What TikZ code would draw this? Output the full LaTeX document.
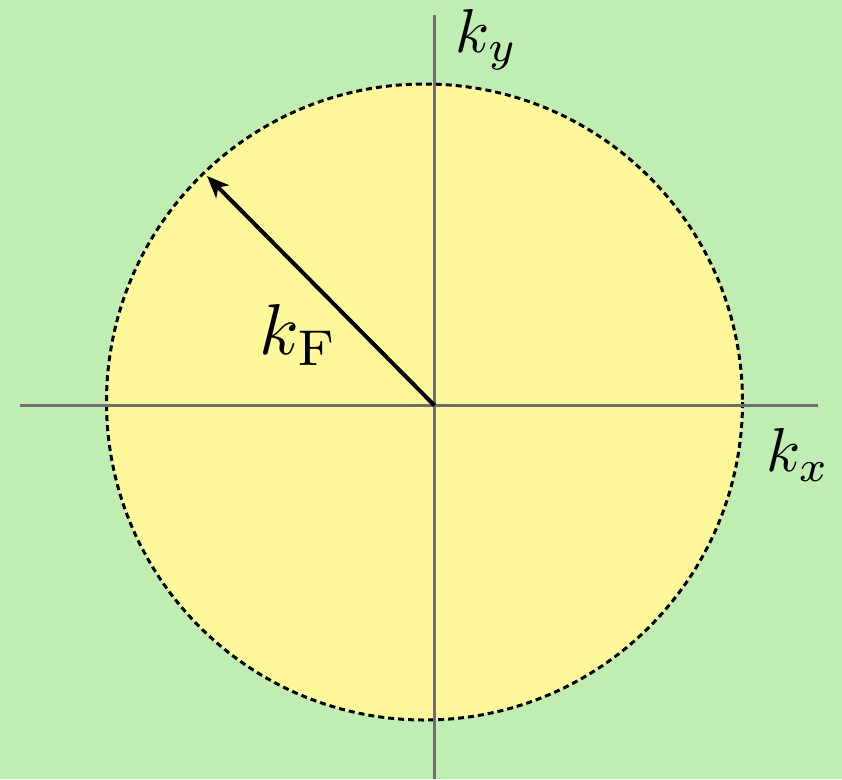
\documentclass[tikz,border=0pt]{standalone}
\usepackage{graphicx}
\usetikzlibrary{arrows.meta}
\definecolor{bggreen}{RGB}{192,238,178}
\definecolor{fsyellow}{RGB}{254,248,154}
\definecolor{axisgray}{RGB}{110,110,110}
\tikzset{
  axisline/.style={draw=axisgray, line width=3pt},
  fermicircle/.style={draw=black, fill=fsyellow, line width=3pt, dash pattern=on 6pt off 4pt},
  kvec/.style={draw=black, line width=4pt, -{Stealth[length=22pt, width=18pt, inset=6pt]}},
  biglabel/.style={inner sep=0pt}
}
\newcommand{\axtext}[1]{\scalebox{6.2}{#1}}
\newcommand{\kftext}[1]{\scalebox{7.2}{#1}}
\begin{document}
\begin{tikzpicture}[x=1pt, y=-1pt]
  \fill[bggreen] (0,0) rectangle (842,779);
  \useasboundingbox (0,0) rectangle (842,779);
  \coordinate (C) at (424.5,402);
  \path[fermicircle] (C) circle[radius=318];
  \coordinate (O) at (434.5,405.5);
  \coordinate (xl) at (20,405.5);
  \coordinate (xr) at (818,405.5);
  \coordinate (yt) at (434.5,15);
  \coordinate (yb) at (434.5,779);
  \draw[axisline] (xl) -- (xr);
  \draw[axisline] (yt) -- (yb);
  \coordinate (kf) at (207,176);
  \draw[kvec] (O) -- (kf);
  \node[biglabel] (ky) at (487,40) {\axtext{$k_y$}};
  \node[biglabel] (kx) at (798,455) {\axtext{$k_x$}};
  \node[biglabel] (kF) at (299,335) {\kftext{$k_{\mathrm{F}}$}};
\end{tikzpicture}
\end{document}
